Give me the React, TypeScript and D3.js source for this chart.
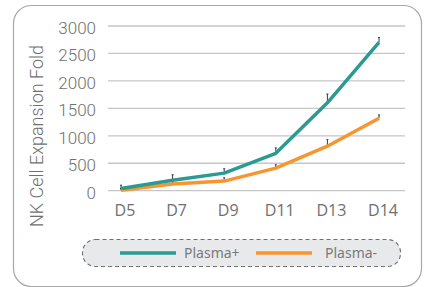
import React, { useRef, useEffect } from 'react';
import * as d3 from 'd3';

const days = ['D5', 'D7', 'D9', 'D11', 'D13', 'D14'];
const plasmaPlus = [40, 190, 320, 680, 1600, 2700];
const plasmaPlusErr = [60, 100, 80, 100, 160, 90];
const plasmaMinus = [10, 120, 175, 412, 810, 1320];
const plasmaMinusErr = [30, 40, 60, 60, 120, 60];
const yTicks = [0, 500, 1000, 1500, 2000, 2500, 3000];
const seriesNames = ['Plasma+', 'Plasma-'];

const App = () => {
  const chart = useRef<SVGSVGElement>(null);

  useEffect(() => {
    const width = 427;
    const height = 287;
    const teal = '#2b9a93';
    const orange = '#f7962f';
    const textGrey = '#707070';

    const svg = d3.select(chart.current);
    svg.selectAll('*').remove();
    svg.attr('width', width).attr('height', height);

    // outer frame
    svg.append('rect')
      .attr('x', 13.5).attr('y', 5.5)
      .attr('width', 408).attr('height', 281)
      .attr('rx', 18)
      .attr('fill', 'white')
      .attr('stroke', '#a8a8a8')
      .attr('stroke-width', 1.2);

    const x = d3.scalePoint<string>()
      .domain(days)
      .range([121, 379]);

    const y = d3.scaleLinear()
      .domain([0, 3000])
      .range([190.7, 26]);

    // grid lines
    svg.append('g')
      .selectAll('line')
      .data(yTicks)
      .join('line')
      .attr('x1', 108).attr('x2', 405)
      .attr('y1', d => y(d)).attr('y2', d => y(d))
      .attr('stroke', '#c6c6c6')
      .attr('stroke-width', 1.3);

    // y tick labels
    svg.append('g')
      .selectAll('text')
      .data(yTicks)
      .join('text')
      .attr('x', 96)
      .attr('y', d => y(d) + 8)
      .attr('text-anchor', 'end')
      .attr('font-family', 'Roboto, sans-serif')
      .attr('font-weight', 300)
      .attr('font-size', 17)
      .attr('fill', textGrey)
      .text(d => d);

    // x labels
    svg.append('g')
      .selectAll('text')
      .data(days)
      .join('text')
      .attr('x', d => x(d)! + 4)
      .attr('y', 216)
      .attr('text-anchor', 'middle')
      .attr('font-family', '"Open Sans", sans-serif')
      .attr('font-size', 16)
      .attr('fill', textGrey)
      .text(d => d);

    // axis title
    svg.append('text')
      .attr('transform', 'translate(43,136) rotate(-90)')
      .attr('text-anchor', 'middle')
      .attr('font-family', 'Roboto, sans-serif')
      .attr('font-weight', 300)
      .attr('font-size', 18)
      .attr('fill', textGrey)
      .text('NK Cell Expansion Fold');

    const series = [
      { name: seriesNames[0], values: plasmaPlus, err: plasmaPlusErr, color: teal },
      { name: seriesNames[1], values: plasmaMinus, err: plasmaMinusErr, color: orange },
    ];

    // error bars (upper only, drawn under the lines)
    series.forEach(s => {
      const g = svg.append('g').attr('stroke', '#3a3a3a').attr('stroke-width', 1);
      g.selectAll('line.bar')
        .data(days)
        .join('line')
        .attr('class', 'bar')
        .attr('x1', d => x(d)!).attr('x2', d => x(d)!)
        .attr('y1', (d, i) => y(s.values[i]))
        .attr('y2', (d, i) => y(s.values[i] + s.err[i]));
      g.selectAll('line.cap')
        .data(days)
        .join('line')
        .attr('class', 'cap')
        .attr('x1', d => x(d)! - 1).attr('x2', d => x(d)! + 1)
        .attr('y1', (d, i) => y(s.values[i] + s.err[i]))
        .attr('y2', (d, i) => y(s.values[i] + s.err[i]));
    });

    const line = d3.line<number>()
      .x((d, i) => x(days[i])!)
      .y(d => y(d));

    // draw orange first so teal sits on top
    [series[1], series[0]].forEach(s => {
      svg.append('path')
        .datum(s.values)
        .attr('fill', 'none')
        .attr('stroke', s.color)
        .attr('stroke-width', 3.5)
        .attr('stroke-linejoin', 'round')
        .attr('d', line);
    });

    // legend
    const legend = svg.append('g');
    legend.append('rect')
      .attr('x', 82.5).attr('y', 239.5)
      .attr('width', 318).attr('height', 27)
      .attr('rx', 13)
      .attr('fill', '#e8e9ea')
      .attr('stroke', '#707070')
      .attr('stroke-width', 1.1)
      .attr('stroke-dasharray', '4,3');

    const items = legend.selectAll('g.item')
      .data(series)
      .join('g')
      .attr('class', 'item')
      .attr('transform', (d, i) => `translate(${120 + i * 136},253)`);
    items.append('line')
      .attr('x1', 0).attr('x2', 56)
      .attr('stroke', d => d.color)
      .attr('stroke-width', 3.5);
    items.append('text')
      .attr('x', (d, i) => (i === 0 ? 64 : 69))
      .attr('y', 5)
      .attr('font-family', '"Noto Sans", sans-serif')
      .attr('font-size', 14)
      .attr('fill', '#7a7a7a')
      .text(d => d.name);
  }, []);

  return (
    <div style={{ position: 'absolute', left: 0, top: 0 }}>
      <svg ref={chart}></svg>
    </div>
  );
};

export default App;
